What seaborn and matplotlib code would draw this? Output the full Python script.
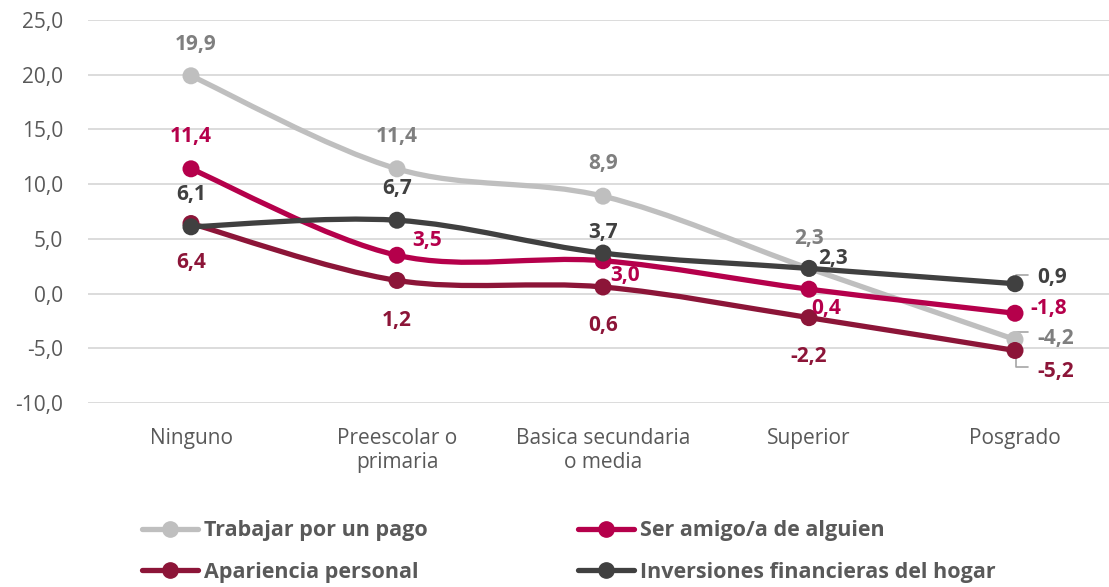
import numpy as np
import matplotlib
matplotlib.use("Agg")
import matplotlib.pyplot as plt
import seaborn as sns
from matplotlib.path import Path
from matplotlib.patches import PathPatch
from matplotlib.lines import Line2D
from matplotlib.transforms import IdentityTransform

# data
categorias = ["Ninguno", "Preescolar o\nprimaria", "Basica secundaria\no media", "Superior", "Posgrado"]
series = ["Trabajar por un pago", "Ser amigo/a de alguien", "Apariencia personal",
          "Inversiones financieras del hogar"]
trabajar = [19.9, 11.4, 8.9, 2.3, -4.2]
ser_amigo = [11.4, 3.5, 3.0, 0.4, -1.8]
apariencia = [6.4, 1.2, 0.6, -2.2, -5.2]
inversiones = [6.1, 6.7, 3.7, 2.3, 0.9]
valores = [trabajar, ser_amigo, apariencia, inversiones]

colores = ["#BFBFBF", "#B5004B", "#8C1538", "#404040"]
colores_etq = ["#7F7F7F", "#B5004B", "#8C1538", "#404040"]

# label offsets in pixels (dx, dy), alignment, leader line
offsets = [
    [(5, 31, "center", None), (0, 32, "center", None), (0, 33, "center", None),
     (0, 30, "center", None), (22, 1, "left", 7.5)],
    [(0, 32, "center", None), (30, 15, "center", None), (22, -15, "center", None),
     (17, -19, "center", None), (15, 5, "left", None)],
    [(0, -39, "center", None), (0, -40, "center", None), (0, -38, "center", None),
     (0, -39, "center", None), (22, -21, "left", -16.5)],
    [(0, 32, "center", None), (0, 32, "center", None), (0, 21, "center", None),
     (24, 10, "center", None), (22, 6, "left", 9)],
]

sns.set_style("white")
plt.rcParams["font.family"] = ["Open Sans", "DejaVu Sans"]

fig = plt.figure(figsize=(11.09, 5.87), dpi=100)
ax = fig.add_axes([88 / 1109, 184 / 587, 1030 / 1109, 383 / 587])

x = np.arange(len(categorias))
ax.set_xlim(-0.5, 4.5)
ax.set_ylim(-10, 25)
ax.set_autoscale_on(False)


def smooth_path(xs, ys):
    # Excel-like smoothed line: cubic bezier through points
    pts = np.column_stack([xs, ys]).astype(float)
    n = len(pts)
    verts = [pts[0]]
    codes = [Path.MOVETO]
    for i in range(n - 1):
        p_prev = pts[i - 1] if i > 0 else pts[i]
        p_next2 = pts[i + 2] if i + 2 < n else pts[i + 1]
        c1 = pts[i] + (pts[i + 1] - p_prev) / 6
        c2 = pts[i + 1] - (p_next2 - pts[i]) / 6
        verts += [c1, c2, pts[i + 1]]
        codes += [Path.CURVE4] * 3
    return Path(verts, codes)


for k, (nombre, vals) in enumerate(zip(series, valores)):
    patch = PathPatch(smooth_path(x, vals), facecolor="none", edgecolor=colores[k],
                      lw=3.8, capstyle="round", zorder=3 + k)
    ax.add_patch(patch)
    sns.scatterplot(x=x, y=vals, color=colores[k], s=150, edgecolor="none",
                    ax=ax, zorder=3.5 + k, legend=False)
    for i, v in enumerate(vals):
        dx, dy, ha, leader = offsets[k][i]
        etiqueta = f"{v:.1f}".replace(".", ",")
        ax.annotate(etiqueta, xy=(i, v), xytext=(dx, dy), textcoords="offset pixels",
                    ha=ha, va="center", fontsize=15, fontweight="bold",
                    color=colores_etq[k], zorder=10)
        if leader is not None:
            px, py = ax.transData.transform((i, v))
            ax.add_line(Line2D([px + 1, px + 1, px + 13], [py, py + leader, py + leader],
                               transform=IdentityTransform(), color="#A6A6A6", lw=1.2,
                               zorder=2.5))

ax.set_yticks(np.arange(-10, 26, 5))
ax.set_yticklabels([f"{t:.1f}".replace(".", ",") for t in np.arange(-10, 26, 5)])
ax.set_xticks(x)
ax.set_xticklabels(categorias)
ax.tick_params(axis="both", length=0, labelsize=15, labelcolor="#595959")
ax.tick_params(axis="y", pad=18)
ax.tick_params(axis="x", pad=18)
ax.grid(axis="y", color="#D9D9D9", lw=1.3)
ax.set_axisbelow(True)
sns.despine(ax=ax, left=True, bottom=True)

# legend fills column-wise: reorder so rows read Trabajar/Ser amigo, Apariencia/Inversiones
orden = [0, 2, 1, 3]
handles = [Line2D([0], [0], color=colores[j], lw=3.8, marker="o", markersize=11) for j in orden]
etiquetas = [series[j] for j in orden]
fig.legend(handles, etiquetas, ncol=2, loc="upper left", bbox_to_anchor=(123 / 1109, 1 - 501 / 587),
           frameon=False, handlelength=2.6, handletextpad=0.25, columnspacing=7.0,
           labelspacing=0.95, prop={"family": ["Open Sans", "DejaVu Sans"], "weight": "bold", "size": 15.5},
           labelcolor="#595959")

fig.savefig("out.png", dpi=100)
